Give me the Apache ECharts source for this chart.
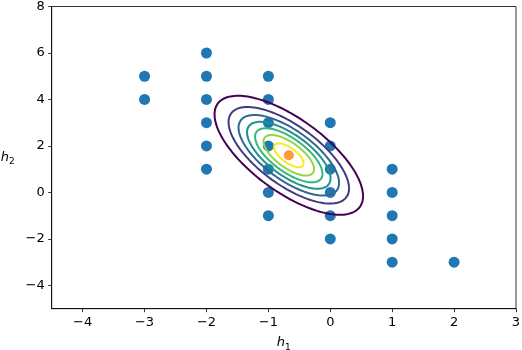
<!DOCTYPE html>
<html>
<head>
<meta charset="utf-8">
<script src="https://cdn.jsdelivr.net/npm/echarts@6/dist/echarts.min.js"></script>
<style>html,body{margin:0;padding:0;background:#fff}#c{width:522px;height:350px}</style>
</head>
<body>
<div id="c"></div>
<script>
// observed data points
const pointsX = [-3,-3, -2,-2,-2,-2,-2,-2, -1,-1,-1,-1,-1,-1,-1, 0,0,0,0,0,0, 1,1,1,1,1, 2];
const pointsY = [ 5, 4,  6, 5, 4, 3, 2, 1,  5, 4, 3, 2, 1, 0,-1, 3,2,1,0,-1,-2, 1,0,-1,-2,-3, -3];
// fitted Gaussian mean (orange marker) and covariance
const meanXY = [-0.67, 1.6];
const covXX = 0.355, covXY = -0.52, covYY = 1.616;
// contour levels as fraction of peak density
const levelFractions = [1/7.6, 2/7.6, 3/7.6, 4/7.6, 5/7.6, 6/7.6, 7/7.6];
const levelColors = ['#440154','#443a83','#31688e','#21918c','#35b779','#8fd744','#fde725'];
const xTicks = [-4,-3,-2,-1,0,1,2,3];
const yTicks = [-4,-2,0,2,4,6,8];

// Cholesky of covariance
const l11 = Math.sqrt(covXX);
const l21 = covXY / l11;
const l22 = Math.sqrt(covYY - l21*l21);

function ellipse(frac){
  const r = Math.sqrt(-2*Math.log(frac));
  const pts = [];
  const n = 160;
  for(let i=0;i<=n;i++){
    const t = 2*Math.PI*i/n;
    const u = r*Math.cos(t), v = r*Math.sin(t);
    pts.push([meanXY[0] + l11*u, meanXY[1] + l21*u + l22*v]);
  }
  return pts;
}

const scatterData = pointsX.map((x,i)=>[x, pointsY[i]]);
const series = [{
  type:'scatter', data: scatterData, symbolSize: 11,
  itemStyle:{color:'#1f77b4', opacity:1}, z:2, silent:true
}];
levelFractions.forEach((f,i)=>{
  series.push({type:'line', data: ellipse(f), showSymbol:false, symbol:'none',
    lineStyle:{color:levelColors[i], width:2}, z:3, silent:true, animation:false});
});
series.push({type:'scatter', data:[meanXY], symbolSize:10,
  itemStyle:{color:'#ff7f0e'}, z:4, silent:true});

const font = 'DejaVu Sans';
const labelRich = {
  h:{fontFamily:font, fontStyle:'italic', fontSize:13, color:'#000', lineHeight:16, verticalAlign:'middle'},
  s:{fontFamily:font, fontSize:9, color:'#000', lineHeight:16, verticalAlign:'bottom', padding:[0,0,-1,0]}
};

const chart = echarts.init(document.getElementById('c'), null, {renderer:'canvas'});
chart.setOption({
  animation:false,
  backgroundColor:'#fff',
  grid:{left:51.7, right:6, top:6.5, bottom:41.3, show:true, borderColor:'#000', borderWidth:0.8,
    containLabel:false, outerBoundsMode:'none'},
  xAxis:{type:'value', min:-4.5, max:3,
    axisLine:{show:true, onZero:false, lineStyle:{color:'#000', width:0.8}},
    axisTick:{show:true, length:3.5, inside:false, lineStyle:{color:'#000', width:0.8}, customValues:xTicks},
    axisLabel:{customValues:xTicks, color:'#000', fontSize:13, fontFamily:font, margin:7,
      formatter:v=>String(v).replace('-','\u2212')},
    splitLine:{show:false},
    name:'{h|h}{s|1}', nameLocation:'middle', nameGap:26,
    nameTextStyle:{rich:labelRich}
  },
  yAxis:{type:'value', min:-5, max:8,
    axisLine:{show:true, onZero:false, lineStyle:{color:'#000', width:0.8}},
    axisTick:{show:true, length:3.5, inside:false, lineStyle:{color:'#000', width:0.8}, customValues:yTicks},
    axisLabel:{customValues:yTicks, color:'#000', fontSize:13, fontFamily:font, margin:7,
      formatter:v=>String(v).replace('-','\u2212')},
    splitLine:{show:false},
    name:'{h|h}{s|2}', nameLocation:'middle', nameGap:37, nameRotate:0,
    nameTextStyle:{rich:labelRich}
  },
  series: series
});
</script>
</body>
</html>
